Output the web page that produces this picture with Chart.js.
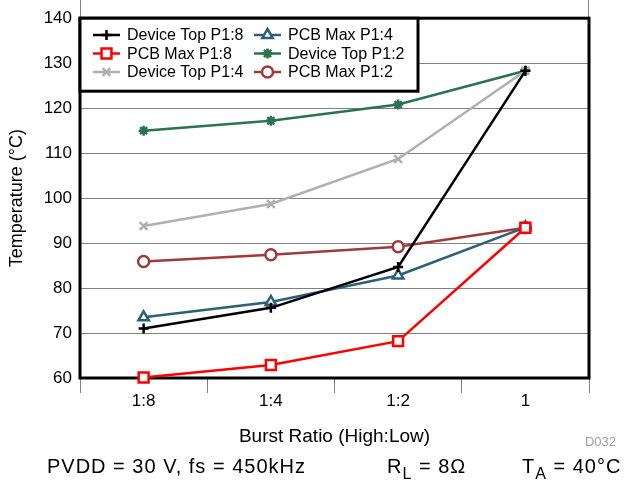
<!DOCTYPE html>
<html>
<head>
<meta charset="utf-8">
<script src="https://cdn.jsdelivr.net/npm/chart.js@4.4.0/dist/chart.umd.min.js"></script>
<style>
  body { margin: 0; background: #fff; }
</style>
</head>
<body>
<canvas id="tempChart" width="627" height="480"></canvas>
<script>
// burst ratio categories
const categories = ['1:8', '1:4', '1:2', '1'];

// temperatures in degC
const deviceTopP18 = [71.0, 75.6, 84.7, 128.3];
const pcbMaxP18    = [60.1, 62.9, 68.2, 93.4];
const deviceTopP14 = [93.8, 98.7, 108.7, 128.3];
const pcbMaxP14    = [73.5, 76.9, 82.8, 93.5];
const deviceTopP12 = [115.0, 117.2, 120.8, 128.3];
const pcbMaxP12    = [85.9, 87.4, 89.2, 93.4];

const seriesNames  = ['Device Top P1:8', 'PCB Max P1:8', 'Device Top P1:4', 'PCB Max P1:4', 'Device Top P1:2', 'PCB Max P1:2'];
const seriesData   = [deviceTopP18, pcbMaxP18, deviceTopP14, pcbMaxP14, deviceTopP12, pcbMaxP12];
const seriesColors = ['#000000', '#ff0000', '#b0b0b0', '#2c5f78', '#2a7350', '#a03a3a'];
const seriesMarks  = ['cross', 'rect', 'crossRot', 'triangle', 'star', 'circle'];
const markRadius   = [5, 7, 5.5, 6, 5, 5.5];

Chart.defaults.font.family = "'Liberation Sans', Arial, sans-serif";
Chart.defaults.color = '#000';

const datasets = seriesNames.map(function(name, i) {
  return {
    label: name,
    data: seriesData[i],
    borderColor: seriesColors[i],
    backgroundColor: '#ffffff',
    pointBorderColor: seriesColors[i],
    pointBackgroundColor: (seriesMarks[i] === 'star') ? seriesColors[i] : '#ffffff',
    pointStyle: seriesMarks[i],
    pointRadius: markRadius[i],
    pointBorderWidth: 2.5,
    borderWidth: 2.5,
    tension: 0,
    clip: false
  };
});

// thick frame round the plot, plus the thin lines poking out the top
const framePlugin = {
  id: 'frame',
  beforeDatasetsDraw(chart) {
    const a = chart.chartArea, ctx = chart.ctx;
    ctx.save();
    ctx.strokeStyle = '#808080';
    ctx.lineWidth = 1;
    ctx.beginPath();
    ctx.moveTo(a.left + 0.5, 0); ctx.lineTo(a.left + 0.5, a.top);
    ctx.moveTo(a.right - 0.5, 0); ctx.lineTo(a.right - 0.5, a.top);
    ctx.stroke();
    ctx.strokeStyle = '#000';
    ctx.lineWidth = 3;
    ctx.strokeRect(a.left, a.top, a.right - a.left, a.bottom - a.top);
    ctx.restore();
  }
};

// legend in two columns inside the plot, plus the notes under the chart
const notesPlugin = {
  id: 'notes',
  afterDraw(chart) {
    const ctx = chart.ctx, a = chart.chartArea;
    ctx.save();

    // legend box
    ctx.fillStyle = '#fff';
    ctx.fillRect(a.left, a.top, 338, 73);
    ctx.strokeStyle = '#000';
    ctx.lineWidth = 3;
    ctx.strokeRect(a.left, a.top, 338, 73);

    const colX = [93, 254];
    const rowY = [35, 53.5, 72];
    ctx.font = "16px 'Liberation Sans', Arial, sans-serif";
    ctx.textBaseline = 'middle';
    seriesNames.forEach(function(name, i) {
      const x = colX[Math.floor(i / 3)], y = rowY[i % 3];
      ctx.strokeStyle = seriesColors[i];
      ctx.lineWidth = 2.5;
      ctx.beginPath();
      ctx.moveTo(x, y); ctx.lineTo(x + 27, y);
      ctx.stroke();
      ctx.fillStyle = (seriesMarks[i] === 'star') ? seriesColors[i] : '#fff';
      Chart.helpers.drawPoint(ctx, {
        pointStyle: seriesMarks[i], radius: markRadius[i], rotation: 0, borderWidth: 2.5
      }, x + 13.5, y);
      ctx.fillStyle = '#000';
      ctx.fillText(name, x + 34, y + 1);
    });

    // D032 tag
    ctx.fillStyle = '#a0a0a0';
    ctx.font = "13px 'Liberation Sans', Arial, sans-serif";
    ctx.textAlign = 'right';
    ctx.textBaseline = 'alphabetic';
    ctx.fillText('D032', 616, 446);

    // conditions line
    ctx.fillStyle = '#000';
    ctx.textAlign = 'left';
    ctx.letterSpacing = '1px';
    const big = "20px 'Liberation Sans', Arial, sans-serif";
    const small = "16px 'Liberation Sans', Arial, sans-serif";
    const base = 473;
    ctx.font = big;
    ctx.fillText('PVDD = 30 V, fs = 450kHz', 47, base);

    function withSub(main, sub, rest, x) {
      ctx.font = big;
      ctx.fillText(main, x, base);
      x += ctx.measureText(main).width;
      ctx.font = small;
      ctx.fillText(sub, x, base + 6);
      x += ctx.measureText(sub).width;
      ctx.font = big;
      ctx.fillText(rest, x, base);
    }
    withSub('R', 'L', ' = 8\u03A9', 387);
    withSub('T', 'A', ' = 40\u00B0C', 522);
    ctx.restore();
  }
};

new Chart(document.getElementById('tempChart'), {
  type: 'line',
  data: { labels: categories, datasets: datasets },
  options: {
    responsive: false,
    animation: false,
    devicePixelRatio: 1,
    layout: { padding: { top: 16, right: 38, left: 0, bottom: 0 } },
    plugins: {
      legend: { display: false },
      tooltip: { enabled: false }
    },
    scales: {
      x: {
        offset: true,
        grid: { offset: true, drawOnChartArea: false, color: '#808080', lineWidth: 1, tickLength: 15 },
        border: { display: false },
        ticks: { font: { size: 17 }, padding: -2, color: '#000' },
        title: { display: true, text: 'Burst Ratio (High:Low)', font: { size: 19 }, color: '#000', padding: { top: 4, bottom: 32 } },
        afterFit: function(scale) { scale.height = 102; }
      },
      y: {
        min: 60,
        max: 140,
        ticks: { stepSize: 10, font: { size: 17 }, padding: 8, color: '#000' },
        grid: { color: '#808080', lineWidth: 1, drawTicks: false },
        border: { display: false },
        title: { display: true, text: 'Temperature (\u00B0C)', font: { size: 18 }, color: '#000', padding: { top: 6, bottom: 4 } },
        afterFit: function(scale) { scale.width = 80; }
      }
    }
  },
  plugins: [framePlugin, notesPlugin]
});
</script>
</body>
</html>
